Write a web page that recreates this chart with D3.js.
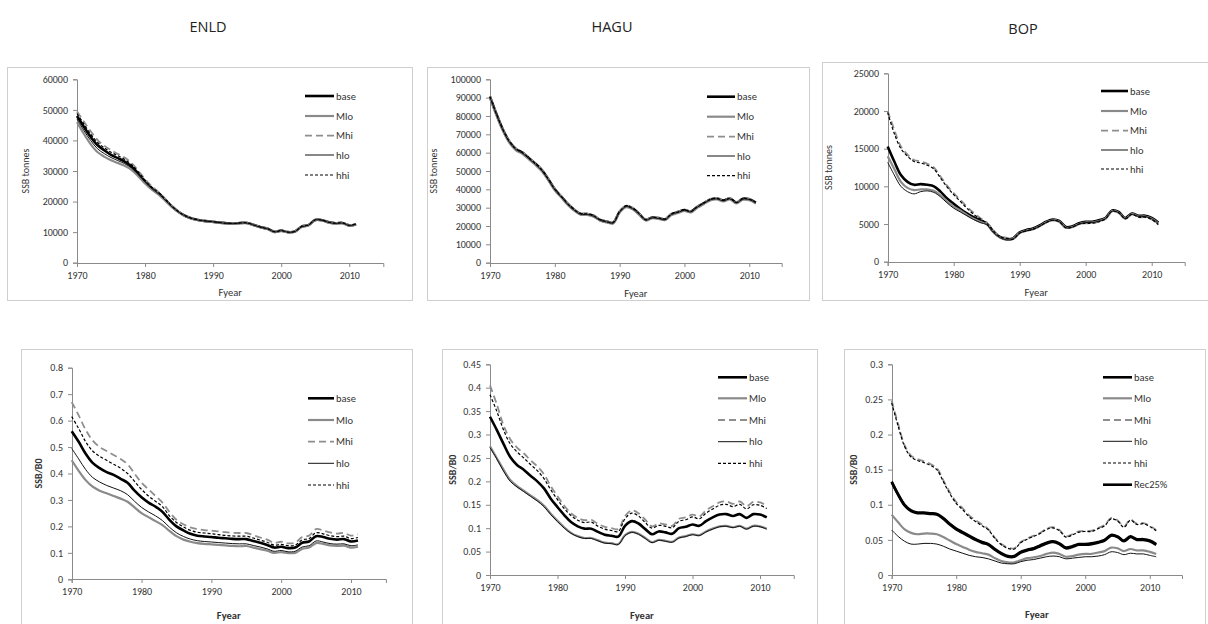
<!DOCTYPE html>
<html>
<head>
<meta charset="utf-8">
<script src="https://cdn.jsdelivr.net/npm/d3@7"></script>
<style>
  body { margin: 0; background: #fff; }
  svg { display: block; font-family: Calibri, Carlito, Lato, "Open Sans", sans-serif; }
</style>
</head>
<body>
<svg id="fig" width="1208" height="624"></svg>
<script>
// ---- data: fishing years and model runs ----
const years = [1970,1971,1972,1973,1974,1975,1976,1977,1978,1979,
  1980,1981,1982,1983,1984,1985,1986,1987,1988,1989,
  1990,1991,1992,1993,1994,1995,1996,1997,1998,1999,
  2000,2001,2002,2003,2004,2005,2006,2007,2008,2009,
  2010,2011];
const xTickYears = [1970, 1980, 1990, 2000, 2010];

// ENLD spawning biomass (tonnes)
const enldSsbBase = [48000,44500,41200,38500,36800,35300,34200,33100,31500,29200,26600,24400,22700,20500,18300,16500,15200,14400,13900,13600,13400,13100,12900,12800,13000,13000,12300,11600,11100,10100,10500,10000,10200,11800,12300,14000,13900,13200,12900,13000,12200,12600];
const enldSsbMlo  = [46000,42200,38800,36200,34700,33500,32600,31700,30400,28300,25900,23900,22300,20200,18100,16400,15100,14300,13800,13500,13300,13000,12800,12700,12900,12900,12200,11500,11000,10000,10400,9900,10100,11700,12200,13900,13800,13100,12800,12900,12100,12500];
const enldSsbMhi  = [49500,46200,43000,40200,38300,36800,35600,34400,32600,30100,27300,25000,23100,20800,18500,16600,15300,14500,14000,13700,13500,13200,13000,12900,13100,13100,12400,11700,11200,10200,10600,10100,10300,11900,12400,14100,14000,13300,13000,13100,12300,12700];
const enldSsbHlo  = [47000,43300,40000,37300,35700,34400,33400,32400,31000,28800,26300,24200,22500,20400,18200,16450,15150,14350,13850,13550,13350,13050,12850,12750,12950,12950,12250,11550,11050,10050,10450,9950,10150,11750,12250,13950,13850,13150,12850,12950,12150,12550];
const enldSsbHhi  = [48800,45400,42100,39400,37600,36100,35000,33800,32100,29700,27000,24700,22900,20700,18400,16550,15250,14450,13950,13650,13450,13150,12950,12850,13050,13050,12350,11650,11150,10150,10550,10050,10250,11850,12350,14050,13950,13250,12950,13050,12250,12650];

// HAGU spawning biomass (tonnes)
const haguSsbBase = [90500,81000,72500,66000,62000,60000,57000,54000,50500,45500,40000,36000,32000,28800,26600,26500,25500,23300,22400,21800,27800,30800,29600,26700,23400,24600,24300,23600,26500,27600,28700,27900,30500,32500,34500,35000,33900,35000,32800,34800,34600,32800];
const haguSsbMlo  = [89800,80300,71800,65300,61300,59300,56300,53300,49800,44900,39400,35500,31500,28400,26200,26100,25100,22900,22000,21400,27300,30300,29100,26200,23000,24200,23900,23200,26000,27100,28200,27400,30000,32000,34000,34500,33400,34500,32300,34300,34100,32300];
const haguSsbMhi  = [90800,81300,72800,66300,62300,60300,57300,54300,50800,45800,40300,36300,32300,29100,26900,26800,25800,23600,22700,22100,28100,31100,29900,27000,23700,24900,24600,23900,26800,27900,29000,28200,30800,32800,34800,35300,34200,35300,33100,35100,34900,33100];
const haguSsbHlo  = [90200,80700,72200,65700,61700,59700,56700,53700,50200,45200,39700,35800,31800,28600,26400,26300,25300,23100,22200,21600,27600,30600,29400,26500,23200,24400,24100,23400,26300,27400,28500,27700,30300,32300,34300,34800,33700,34800,32600,34600,34400,32600];
const haguSsbHhi  = [90600,81100,72600,66100,62100,60100,57100,54100,50600,45600,40100,36100,32100,28900,26700,26600,25600,23400,22500,21900,27900,30900,29700,26800,23500,24700,24400,23700,26600,27700,28800,28000,30600,32600,34600,35100,34000,35100,32900,34900,34700,32900];

// BOP spawning biomass (tonnes)
const bopSsbBase = [15300,13300,11500,10600,10200,10300,10200,10000,9300,8400,7700,7000,6400,5900,5500,5100,4000,3300,3000,3100,3900,4200,4400,4800,5300,5600,5400,4600,4700,5100,5300,5300,5500,5800,6800,6600,5800,6400,6100,6100,5800,5200];
const bopSsbMlo  = [14000,12300,10600,9800,9500,9600,9600,9400,8800,8000,7300,6800,6200,5700,5300,5000,3900,3200,2900,3000,3800,4100,4300,4700,5200,5500,5300,4500,4600,5000,5200,5200,5400,5700,6700,6500,5700,6300,6000,6000,5700,5100];
const bopSsbMhi  = [20000,17500,15300,14200,13500,13300,13000,12500,11300,10100,9100,8200,7300,6500,5800,5200,4200,3400,3200,3100,3800,4100,4300,4700,5200,5500,5300,4500,4600,5000,5100,5100,5300,5700,6700,6500,5700,6300,5900,5900,5600,5000];
const bopSsbHlo  = [13200,11500,10000,9300,9000,9300,9400,9200,8600,7800,7100,6600,6100,5600,5200,4900,3900,3200,2900,3000,3800,4100,4300,4700,5200,5500,5300,4500,4600,5000,5200,5200,5400,5700,6700,6500,5700,6300,6000,6000,5700,5100];
const bopSsbHhi  = [19800,17000,15000,14000,13300,13100,12800,12300,11100,9900,8900,8000,7100,6300,5700,5100,4100,3300,3100,3000,3800,4100,4300,4700,5200,5500,5300,4500,4600,5000,5100,5100,5300,5700,6700,6500,5700,6300,5900,5900,5600,4900];

// ENLD depletion (SSB/B0)
const enldDepBase = [0.56,0.52,0.475,0.44,0.42,0.405,0.395,0.38,0.365,0.335,0.31,0.29,0.275,0.255,0.225,0.2,0.185,0.172,0.165,0.162,0.16,0.157,0.155,0.153,0.152,0.152,0.145,0.138,0.13,0.12,0.123,0.118,0.12,0.138,0.143,0.163,0.16,0.153,0.15,0.152,0.143,0.147];
const enldDepMlo  = [0.45,0.41,0.375,0.35,0.335,0.325,0.315,0.305,0.293,0.272,0.25,0.235,0.22,0.205,0.183,0.163,0.15,0.142,0.137,0.134,0.132,0.13,0.128,0.126,0.125,0.126,0.12,0.114,0.108,0.1,0.103,0.099,0.1,0.115,0.12,0.137,0.134,0.128,0.126,0.127,0.12,0.123];
const enldDepMhi  = [0.67,0.62,0.565,0.525,0.5,0.485,0.47,0.455,0.435,0.4,0.365,0.34,0.315,0.29,0.255,0.225,0.208,0.196,0.19,0.186,0.184,0.181,0.178,0.176,0.175,0.175,0.167,0.158,0.15,0.138,0.142,0.136,0.138,0.16,0.165,0.19,0.185,0.177,0.173,0.175,0.165,0.17];
const enldDepHlo  = [0.495,0.455,0.415,0.385,0.368,0.355,0.345,0.335,0.32,0.295,0.272,0.255,0.24,0.222,0.197,0.176,0.162,0.152,0.146,0.143,0.141,0.139,0.137,0.135,0.134,0.134,0.128,0.122,0.115,0.106,0.109,0.104,0.106,0.122,0.127,0.145,0.141,0.135,0.133,0.134,0.127,0.13];
const enldDepHhi  = [0.615,0.57,0.52,0.485,0.465,0.45,0.435,0.42,0.4,0.37,0.34,0.315,0.295,0.275,0.24,0.215,0.198,0.185,0.178,0.175,0.172,0.169,0.166,0.164,0.163,0.163,0.156,0.148,0.14,0.129,0.132,0.127,0.129,0.149,0.154,0.176,0.172,0.165,0.161,0.163,0.154,0.158];

// HAGU depletion (SSB/B0)
const haguDepBase = [0.338,0.31,0.28,0.252,0.235,0.225,0.212,0.2,0.185,0.163,0.145,0.128,0.113,0.104,0.099,0.099,0.092,0.086,0.084,0.082,0.105,0.115,0.11,0.098,0.087,0.093,0.091,0.088,0.1,0.103,0.108,0.105,0.115,0.123,0.129,0.13,0.126,0.13,0.122,0.13,0.129,0.123];
const haguDepMlo  = [0.275,0.25,0.225,0.203,0.19,0.18,0.17,0.16,0.148,0.131,0.116,0.102,0.09,0.083,0.079,0.079,0.074,0.069,0.068,0.066,0.085,0.092,0.088,0.079,0.07,0.075,0.073,0.071,0.08,0.083,0.087,0.085,0.093,0.099,0.104,0.105,0.102,0.105,0.099,0.105,0.104,0.099];
const haguDepMhi  = [0.405,0.365,0.32,0.29,0.272,0.26,0.245,0.232,0.215,0.19,0.168,0.148,0.132,0.122,0.117,0.118,0.109,0.103,0.1,0.098,0.126,0.138,0.132,0.118,0.104,0.11,0.108,0.105,0.12,0.123,0.129,0.125,0.138,0.147,0.155,0.157,0.152,0.157,0.147,0.156,0.155,0.148];
const haguDepHlo  = [0.272,0.248,0.222,0.2,0.188,0.178,0.168,0.158,0.146,0.129,0.114,0.1,0.089,0.082,0.078,0.078,0.073,0.068,0.067,0.065,0.084,0.091,0.087,0.078,0.069,0.074,0.072,0.07,0.079,0.082,0.086,0.084,0.092,0.098,0.103,0.104,0.101,0.104,0.098,0.104,0.103,0.098];
const haguDepHhi  = [0.385,0.35,0.31,0.28,0.263,0.25,0.236,0.223,0.206,0.182,0.161,0.142,0.127,0.117,0.112,0.113,0.104,0.098,0.095,0.093,0.12,0.132,0.126,0.112,0.1,0.106,0.104,0.101,0.115,0.118,0.124,0.12,0.132,0.141,0.149,0.151,0.146,0.151,0.141,0.15,0.149,0.142];

// BOP depletion (SSB/B0)
const bopDepBase = [0.133,0.115,0.1,0.092,0.089,0.089,0.088,0.087,0.081,0.073,0.066,0.061,0.056,0.051,0.047,0.044,0.037,0.031,0.027,0.027,0.033,0.036,0.038,0.042,0.046,0.048,0.045,0.039,0.041,0.044,0.044,0.045,0.047,0.05,0.057,0.055,0.049,0.055,0.051,0.051,0.049,0.044];
const bopDepMlo  = [0.086,0.075,0.065,0.06,0.058,0.059,0.059,0.058,0.054,0.049,0.044,0.04,0.036,0.033,0.031,0.029,0.024,0.02,0.018,0.018,0.021,0.024,0.025,0.027,0.03,0.032,0.03,0.026,0.027,0.029,0.03,0.03,0.032,0.034,0.039,0.038,0.034,0.037,0.035,0.035,0.033,0.03];
const bopDepMhi  = [0.248,0.215,0.185,0.17,0.165,0.162,0.158,0.152,0.135,0.118,0.104,0.095,0.085,0.078,0.072,0.065,0.053,0.044,0.039,0.038,0.047,0.052,0.056,0.06,0.066,0.068,0.064,0.055,0.058,0.062,0.063,0.063,0.067,0.071,0.081,0.078,0.069,0.079,0.073,0.074,0.07,0.064];
const bopDepHlo  = [0.064,0.055,0.048,0.044,0.044,0.045,0.045,0.044,0.041,0.037,0.034,0.031,0.028,0.026,0.025,0.023,0.02,0.017,0.016,0.016,0.019,0.021,0.022,0.024,0.026,0.027,0.026,0.023,0.024,0.025,0.026,0.026,0.027,0.029,0.033,0.032,0.029,0.031,0.03,0.03,0.028,0.026];
const bopDepHhi  = [0.245,0.212,0.183,0.168,0.163,0.16,0.156,0.15,0.133,0.116,0.102,0.093,0.083,0.076,0.07,0.064,0.052,0.043,0.038,0.037,0.046,0.051,0.055,0.059,0.065,0.067,0.063,0.054,0.057,0.061,0.062,0.062,0.066,0.07,0.08,0.077,0.068,0.078,0.072,0.073,0.069,0.063];
const bopDepRec  = [0.132,0.114,0.099,0.091,0.088,0.088,0.087,0.086,0.08,0.072,0.065,0.06,0.055,0.05,0.046,0.043,0.036,0.03,0.026,0.026,0.032,0.035,0.037,0.041,0.045,0.047,0.044,0.038,0.04,0.043,0.043,0.044,0.046,0.049,0.056,0.054,0.048,0.054,0.05,0.05,0.048,0.043];

// stock names shown above each column
const stockNames = ["ENLD", "HAGU", "BOP"];

// ---- line styles per run ----
const runStyle = {
  "base":   { stroke: "#000000", width: 2.6, dash: null },
  "Mlo":    { stroke: "#8a8a8a", width: 2.2, dash: null },
  "Mhi":    { stroke: "#8e8e8e", width: 1.8, dash: "7,4" },
  "hlo":    { stroke: "#111111", width: 1.0, dash: null },
  "hhi":    { stroke: "#000000", width: 1.2, dash: "3,2" },
  "Rec25%": { stroke: "#000000", width: 2.6, dash: null }
};

// ---- panel layout ----
const panels = [
  { frame: [7, 67, 412, 300], xr: [77, 383.3], yr: [262.7, 79.3], yMax: 60000, yStep: 10000,
    yTitle: "SSB tonnes", yTitleX: 25, bold: false, fyearY: 292,
    leg: { x0: 305, x1: 334, tx: 336, ys: [96, 116, 135.7, 155, 175] },
    series: [["base", enldSsbBase], ["Mlo", enldSsbMlo], ["Mhi", enldSsbMhi], ["hlo", enldSsbHlo], ["hhi", enldSsbHhi]] },
  { frame: [427, 67, 809, 300], xr: [490, 781.7], yr: [262.7, 79.3], yMax: 100000, yStep: 10000,
    yTitle: "SSB tonnes", yTitleX: 433, bold: false, fyearY: 293,
    leg: { x0: 707, x1: 735, tx: 737, ys: [96.7, 116.7, 136.7, 156, 175.7] },
    series: [["base", haguSsbBase], ["Mlo", haguSsbMlo], ["Mhi", haguSsbMhi], ["hlo", haguSsbHlo], ["hhi", haguSsbHhi]] },
  { frame: [822, 62, 1212, 300], xr: [887.7, 1184.7], yr: [261.7, 73.3], yMax: 25000, yStep: 5000,
    yTitle: "SSB tonnes", yTitleX: 828, bold: false, fyearY: 292,
    leg: { x0: 1101, x1: 1128, tx: 1130, ys: [91, 111, 130.7, 150, 169] },
    series: [["base", bopSsbBase], ["Mlo", bopSsbMlo], ["Mhi", bopSsbMhi], ["hlo", bopSsbHlo], ["hhi", bopSsbHhi]] },
  { frame: [21, 349, 412, 640], xr: [71.7, 385.9], yr: [579.3, 367.7], yMax: 0.8, yStep: 0.1,
    yTitle: "SSB/B0", yTitleX: 38, bold: true, fyearY: 615,
    leg: { x0: 308, x1: 334, tx: 336, ys: [398.3, 420, 441.7, 463.3, 485] },
    series: [["base", enldDepBase], ["Mlo", enldDepMlo], ["Mhi", enldDepMhi], ["hlo", enldDepHlo], ["hhi", enldDepHhi]] },
  { frame: [442, 349, 817, 640], xr: [490, 793.75], yr: [575, 364.3], yMax: 0.45, yStep: 0.05,
    yTitle: "SSB/B0", yTitleX: 452, bold: true, fyearY: 615.5,
    leg: { x0: 718, x1: 747, tx: 749, ys: [377.3, 398.3, 420, 441.7, 463.3] },
    series: [["base", haguDepBase], ["Mlo", haguDepMlo], ["Mhi", haguDepMhi], ["hlo", haguDepHlo], ["hhi", haguDepHhi]] },
  { frame: [844, 349, 1205, 640], xr: [891.7, 1182], yr: [575, 364.3], yMax: 0.3, yStep: 0.05,
    yTitle: "SSB/B0", yTitleX: 853, bold: true, fyearY: 614,
    leg: { x0: 1103, x1: 1132, tx: 1134, ys: [377.3, 398.3, 420, 441.3, 463, 484.7] },
    series: [["base", bopDepBase], ["Mlo", bopDepMlo], ["Mhi", bopDepMhi], ["hlo", bopDepHlo], ["hhi", bopDepHhi], ["Rec25%", bopDepRec]] }
];
const titlePos = [[208, 32], [612, 32], [1023, 34]];

const svg = d3.select("#fig");
const axisColor = "#8a8a8a";
const textColor = "#333333";

// column headings
stockNames.forEach((name, i) => {
  svg.append("text")
    .attr("x", titlePos[i][0]).attr("y", titlePos[i][1])
    .attr("text-anchor", "middle")
    .attr("font-family", "'Open Sans', 'Noto Sans', sans-serif")
    .attr("font-size", "14.5px")
    .attr("font-weight", 400)
    .attr("fill", "#222")
    .text(name);
});

function fmtTick(step) {
  return d => d === 0 ? "0" : (step < 1 ? String(+d.toFixed(2)) : String(Math.round(d)));
}

panels.forEach(p => {
  const g = svg.append("g");

  // chart frame
  g.append("rect")
    .attr("x", p.frame[0] + 0.5).attr("y", p.frame[1] + 0.5)
    .attr("width", p.frame[2] - p.frame[0]).attr("height", p.frame[3] - p.frame[1])
    .attr("fill", "#fff").attr("stroke", "#cfcfcf").attr("stroke-width", 1);

  const x = d3.scaleLinear().domain([1970, 2015]).range(p.xr);
  const y = d3.scaleLinear().domain([0, p.yMax]).range(p.yr);
  const nT = Math.round(p.yMax / p.yStep);
  const yTicks = d3.range(nT + 1).map(i => +(i * p.yStep).toFixed(4));

  const yAxis = g.append("g")
    .attr("transform", `translate(${Math.round(p.xr[0])},0)`)
    .call(d3.axisLeft(y).tickValues(yTicks).tickSize(4).tickPadding(5).tickFormat(fmtTick(p.yStep)));
  const xAxis = g.append("g")
    .attr("transform", `translate(0,${Math.round(p.yr[0])})`)
    .call(d3.axisBottom(x).tickValues(xTickYears).tickSize(4).tickPadding(5).tickFormat(d3.format("d")));
  [yAxis, xAxis].forEach(a => {
    a.select(".domain").attr("stroke", axisColor);
    a.selectAll(".tick line").attr("stroke", axisColor);
    a.selectAll(".tick text").attr("fill", textColor).attr("font-size", "10px")
      .attr("font-family", "Calibri, Carlito, Lato, sans-serif");
  });

  // axis titles
  const cy = (p.yr[0] + p.yr[1]) / 2;
  g.append("text")
    .attr("transform", `translate(${p.yTitleX},${cy}) rotate(-90)`)
    .attr("text-anchor", "middle").attr("dy", "0.35em")
    .attr("font-size", "10px").attr("font-weight", p.bold ? "bold" : "normal")
    .attr("fill", textColor)
    .text(p.yTitle);
  g.append("text")
    .attr("x", (p.xr[0] + p.xr[1]) / 2).attr("y", p.fyearY)
    .attr("text-anchor", "middle").attr("dy", "0.35em")
    .attr("font-size", "10.5px").attr("font-weight", p.bold ? "bold" : "normal")
    .attr("fill", textColor)
    .text("Fyear");

  // smoothed series lines
  const line = d3.line()
    .x((d, i) => x(years[i]))
    .y(d => y(d))
    .curve(d3.curveCatmullRom.alpha(0.5));

  p.series.forEach(([name, vals]) => {
    const s = runStyle[name];
    g.append("path")
      .attr("d", line(vals))
      .attr("fill", "none")
      .attr("stroke", s.stroke)
      .attr("stroke-width", s.width)
      .attr("stroke-dasharray", s.dash)
      .attr("stroke-linejoin", "round");
  });

  // legend
  p.series.forEach(([name], i) => {
    const s = runStyle[name];
    const ly = p.leg.ys[i];
    g.append("line")
      .attr("x1", p.leg.x0).attr("x2", p.leg.x1)
      .attr("y1", ly).attr("y2", ly)
      .attr("stroke", s.stroke).attr("stroke-width", s.width)
      .attr("stroke-dasharray", s.dash);
    g.append("text")
      .attr("x", p.leg.tx).attr("y", ly).attr("dy", "0.35em")
      .attr("font-size", "10.5px").attr("fill", textColor)
      .text(name);
  });
});
</script>
</body>
</html>
